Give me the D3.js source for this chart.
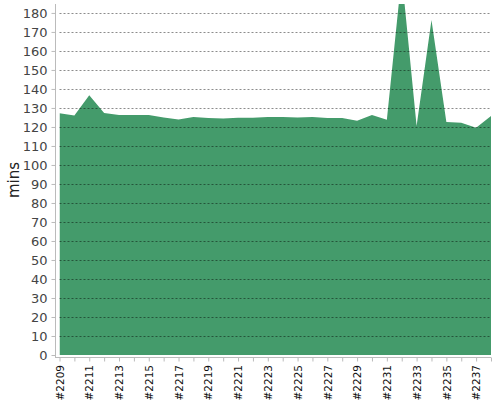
<!DOCTYPE html>
<html>
<head>
<style>
  body { margin: 0; background: white; }
  .tick text { font-family: "DejaVu Sans", sans-serif; }
</style>
</head>
<body>
<div id="chart"></div>
<script src="https://cdnjs.cloudflare.com/ajax/libs/d3/7.8.5/d3.min.js"></script>
<script>
  // builds #2209 .. #2238
  const builds = ["#2209","#2210","#2211","#2212","#2213","#2214","#2215","#2216","#2217","#2218",
                  "#2219","#2220","#2221","#2222","#2223","#2224","#2225","#2226","#2227","#2228",
                  "#2229","#2230","#2231","#2232","#2233","#2234","#2235","#2236","#2237","#2238"];
  const mins = [127.2, 126, 136.7, 127.4, 126.3, 126.3, 126.3, 125, 123.9, 125.3,
                124.7, 124.4, 124.8, 124.8, 125.3, 125.3, 125, 125.3, 124.7, 124.7,
                123.3, 126.3, 123.8, 200, 120.5, 176.3, 122.6, 122.2, 119.6, 125.8];
  const yTicks = [0,10,20,30,40,50,60,70,80,90,100,110,120,130,140,150,160,170,180];

  const width = 500, height = 400;
  const x0 = 59.5, x1 = 491, yTop = 4, yBottom = 355;

  const svg = d3.select("#chart").append("svg")
    .attr("width", width).attr("height", height);

  const x = d3.scalePoint().domain(builds).range([x0, x1]);
  const y = d3.scaleLinear().domain([0, 184.7]).range([yBottom, yTop]);

  svg.append("clipPath").attr("id", "clip")
    .append("rect").attr("x", x0).attr("y", yTop)
    .attr("width", x1 - x0).attr("height", yBottom - yTop);

  // area
  const area = d3.area()
    .x((d, i) => x(builds[i]))
    .y0(y(0))
    .y1(d => y(d));

  svg.append("path")
    .datum(mins)
    .attr("clip-path", "url(#clip)")
    .attr("fill", "#449b6b")
    .attr("d", area);

  // grid lines over the area
  svg.append("g")
    .selectAll("line")
    .data(yTicks.filter(d => d > 0))
    .join("line")
    .attr("x1", x0).attr("x2", x1)
    .attr("y1", d => Math.round(y(d)) + 0.5)
    .attr("y2", d => Math.round(y(d)) + 0.5)
    .attr("stroke", "rgba(0,0,0,0.45)")
    .attr("stroke-dasharray", "2,2");

  // y axis
  const yAxis = svg.append("g")
    .attr("transform", "translate(55.5,0)")
    .call(d3.axisLeft(y).tickValues(yTicks).tickSize(4).tickPadding(4));
  yAxis.select(".domain").attr("stroke", "#bbb").attr("d", `M0,${yTop}V${yBottom + 3}`);
  yAxis.selectAll(".tick line").attr("stroke", "#bbb");
  yAxis.selectAll(".tick text").attr("font-size", 13).attr("fill", "#444");

  svg.append("text")
    .attr("transform", `translate(19,180) rotate(-90)`)
    .attr("text-anchor", "middle")
    .attr("font-family", "DejaVu Sans, sans-serif")
    .attr("font-size", 15)
    .attr("fill", "#222")
    .text("mins");

  // x axis
  const xAxis = svg.append("g")
    .attr("transform", `translate(0,${yBottom + 2.5})`)
    .call(d3.axisBottom(x).tickSize(4)
      .tickFormat((d, i) => i % 2 === 0 ? d : ""));
  xAxis.select(".domain").attr("stroke", "#bbb").attr("d", `M55,0H${x1}`);
  xAxis.selectAll(".tick line").attr("stroke", "#bbb");
  xAxis.selectAll(".tick text")
    .attr("font-size", 10.5)
    .attr("fill", "#111")
    .attr("text-anchor", "end")
    .attr("dy", "0.35em")
    .attr("transform", "rotate(-90)")
    .attr("x", -7.5)
    .attr("y", 0);
</script>
</body>
</html>
